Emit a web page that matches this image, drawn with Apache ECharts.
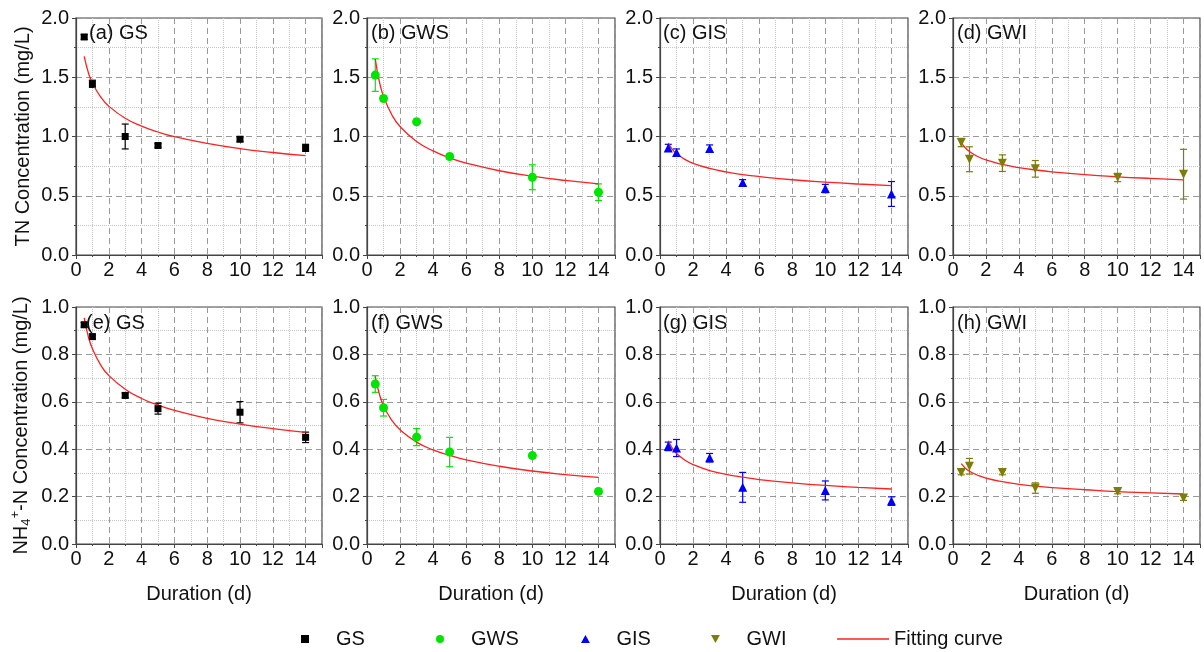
<!DOCTYPE html>
<html>
<head>
<meta charset="utf-8">
<script src="https://cdn.jsdelivr.net/npm/echarts@6/dist/echarts.min.js"></script>
<style>
  html, body { margin: 0; padding: 0; background: #fff; }
  #chart { width: 1204px; height: 652px; }
</style>
</head>
<body>
<div id="chart"></div>
<script>
// sampling days
var days = [0.5, 1, 3, 5, 10, 14];

// TN (mg/L), mean and error half-width
var tnGS = [1.84, 1.445, 1.0, 0.924, 0.977, 0.904];
var tnGSErr = [0.02, 0.03, 0.105, 0.015, 0.02, 0.03];
var tnGWS = [1.518, 1.321, 1.124, 0.831, 0.656, 0.53];
var tnGWSErr = [0.137, 0.02, 0.015, 0.02, 0.105, 0.07];
var tnGIS = [0.904, 0.865, 0.899, 0.611, 0.561, 0.515];
var tnGISErr = [0.03, 0.03, 0.03, 0.025, 0.035, 0.105];
var tnGWI = [0.949, 0.808, 0.775, 0.727, 0.654, 0.682];
var tnGWIErr = [0.035, 0.105, 0.07, 0.07, 0.035, 0.21];

// NH4+-N (mg/L)
var nhGS = [0.925, 0.875, 0.627, 0.571, 0.556, 0.45];
var nhGSErr = [0.01, 0.01, 0.01, 0.023, 0.045, 0.022];
var nhGWS = [0.675, 0.575, 0.451, 0.388, 0.373, 0.222];
var nhGWSErr = [0.035, 0.035, 0.036, 0.062, 0.01, 0.01];
var nhGIS = [0.412, 0.405, 0.364, 0.239, 0.226, 0.181];
var nhGISErr = [0.018, 0.036, 0.018, 0.063, 0.04, 0.018];
var nhGWI = [0.302, 0.328, 0.302, 0.236, 0.222, 0.194];
var nhGWIErr = [0.01, 0.033, 0.01, 0.022, 0.01, 0.01];

// fitting curves
var fitDays = [0.5, 0.75, 1, 1.5, 2, 3, 4, 5, 6, 8, 10, 12, 14];
var fitTnGS = [1.676, 1.540, 1.451, 1.334, 1.256, 1.154, 1.088, 1.038, 0.999, 0.942, 0.898, 0.865, 0.838];
var fitTnGWS = [1.654, 1.462, 1.339, 1.184, 1.084, 0.958, 0.878, 0.820, 0.776, 0.711, 0.665, 0.629, 0.600];
var fitTnGIS = [0.944, 0.891, 0.855, 0.807, 0.774, 0.731, 0.701, 0.679, 0.662, 0.635, 0.615, 0.599, 0.586];
var fitTnGWI = [0.949, 0.904, 0.873, 0.831, 0.802, 0.764, 0.738, 0.718, 0.702, 0.678, 0.660, 0.646, 0.634];
var fitNhGS = [0.954, 0.875, 0.824, 0.756, 0.711, 0.653, 0.614, 0.586, 0.564, 0.530, 0.506, 0.487, 0.471];
var fitNhGWS = [0.707, 0.632, 0.584, 0.522, 0.482, 0.430, 0.397, 0.374, 0.355, 0.328, 0.308, 0.293, 0.281];
var fitNhGIS = [0.436, 0.404, 0.382, 0.354, 0.335, 0.310, 0.294, 0.282, 0.272, 0.258, 0.247, 0.239, 0.232];
var fitNhGWI = [0.339, 0.320, 0.307, 0.290, 0.278, 0.263, 0.252, 0.244, 0.238, 0.229, 0.221, 0.216, 0.211];

var panelLabels = ['(a) GS', '(b) GWS', '(c) GIS', '(d) GWI', '(e) GS', '(f) GWS', '(g) GIS', '(h) GWI'];

var FONT = "'Liberation Sans', Arial, sans-serif";
var lefts = [76, 367, 660, 953];
var widths = [246, 248, 248, 247];
var tops = [18, 307];
var labelLefts = [89, 371, 663, 957, 86, 371, 663, 957];

var SQUARE = 'path://M0,0 L10,0 L10,10 L0,10 Z';
var UP = 'path://M5,0 L10,9 L0,9 Z';
var DOWN = 'path://M0,0 L10,0 L5,9 Z';
var LINE = 'path://M0,0 L60,0 L60,1.6 L0,1.6 Z';

var groups = [
  { name: 'GS', color: '#000000', symbol: 'rect', size: 7, icon: SQUARE, legendLeft: 296 },
  { name: 'GWS', color: '#00e600', symbol: 'circle', size: 9, icon: 'circle', legendLeft: 431 },
  { name: 'GIS', color: '#0000ff', symbol: 'triangle', size: 9, icon: UP, legendLeft: 576 },
  { name: 'GWI', color: '#7d7d0a', symbol: DOWN, size: 9, icon: DOWN, legendLeft: 706 }
];
var means = [tnGS, tnGWS, tnGIS, tnGWI, nhGS, nhGWS, nhGIS, nhGWI];
var errs = [tnGSErr, tnGWSErr, tnGISErr, tnGWIErr, nhGSErr, nhGWSErr, nhGISErr, nhGWIErr];
var fits = [fitTnGS, fitTnGWS, fitTnGIS, fitTnGWI, fitNhGS, fitNhGWS, fitNhGIS, fitNhGWI];

var grids = [], xAxes = [], yAxes = [], titles = [], series = [];

for (var i = 0; i < 8; i++) {
  var row = Math.floor(i / 4), col = i % 4;
  var g = groups[col];
  grids.push({
    left: lefts[col], top: tops[row], width: widths[col], height: 237,
    show: true, borderColor: '#444', borderWidth: 1.2, backgroundColor: '#fff'
  });
  xAxes.push({
    gridIndex: i, type: 'value', min: 0, max: 15, interval: 2,
    name: row === 1 ? 'Duration (d)' : '', nameLocation: 'middle', nameGap: 40,
    nameTextStyle: { fontSize: 20, color: '#111', fontFamily: FONT },
    axisLine: { show: true, onZero: false, lineStyle: { color: '#444', width: 1.2 } },
    axisTick: { show: true, length: 4, lineStyle: { color: '#444' } },
    minorTick: { show: true, splitNumber: 2, length: 2, lineStyle: { color: '#444' } },
    axisLabel: {
      fontSize: 20, color: '#111', fontFamily: FONT, margin: 5,
      formatter: function (v) { return v > 14 ? '' : String(v); }
    },
    splitLine: { show: true, lineStyle: { color: '#999', type: [6, 4], width: 1 } },
    minorSplitLine: { show: true, lineStyle: { color: '#c4c4c4', type: 'dotted', width: 1 } }
  });
  var yName = '';
  if (col === 0) {
    yName = row === 0 ? 'TN Concentration (mg/L)' : '{n|NH}{sub|4}{sup|+}{n|-N Concentration (mg/L)}';
  }
  yAxes.push({
    gridIndex: i, type: 'value', min: 0,
    max: row === 0 ? 2 : 1, interval: row === 0 ? 0.5 : 0.2,
    name: yName, nameLocation: 'middle', nameGap: 43,
    nameTextStyle: {
      fontSize: 20, color: '#111', fontFamily: FONT,
      rich: {
        n: { fontSize: 20, color: '#111', fontFamily: FONT, lineHeight: 24 },
        sub: { fontSize: 13, color: '#111', fontFamily: FONT, verticalAlign: 'bottom', lineHeight: 24 },
        sup: { fontSize: 13, color: '#111', fontFamily: FONT, verticalAlign: 'top', lineHeight: 24 }
      }
    },
    axisLine: { show: true, lineStyle: { color: '#444', width: 1.2 } },
    axisTick: { show: true, length: 4, lineStyle: { color: '#444' } },
    minorTick: { show: true, splitNumber: 2, length: 2, lineStyle: { color: '#444' } },
    axisLabel: {
      fontSize: 20, color: '#111', fontFamily: FONT, margin: 7,
      formatter: function (v) { return v.toFixed(1); }
    },
    splitLine: { show: true, lineStyle: { color: '#999', type: [6, 4], width: 1 } },
    minorSplitLine: { show: true, lineStyle: { color: '#c4c4c4', type: 'dotted', width: 1 } }
  });
  titles.push({
    text: panelLabels[i], left: labelLefts[i], top: row === 0 ? 23 : 313, padding: 0,
    textStyle: { fontSize: 20, fontWeight: 'normal', color: '#111', fontFamily: FONT }
  });

  // error bars
  var barData = days.map(function (d, k) {
    return [d, means[i][k] - errs[i][k], means[i][k] + errs[i][k]];
  });
  series.push({
    type: 'custom', xAxisIndex: i, yAxisIndex: i, silent: true, z: 3,
    data: barData,
    renderItem: (function (color) {
      return function (params, api) {
        var top = api.coord([api.value(0), api.value(2)]);
        var bot = api.coord([api.value(0), api.value(1)]);
        var w = 3.5;
        var st = { stroke: color, lineWidth: 1.2 };
        return {
          type: 'group',
          children: [
            { type: 'line', shape: { x1: top[0], y1: top[1], x2: bot[0], y2: bot[1] }, style: st },
            { type: 'line', shape: { x1: top[0] - w, y1: top[1], x2: top[0] + w, y2: top[1] }, style: st },
            { type: 'line', shape: { x1: bot[0] - w, y1: bot[1], x2: bot[0] + w, y2: bot[1] }, style: st }
          ]
        };
      };
    })(g.color)
  });

  // fitting curve
  series.push({
    name: 'Fitting curve', type: 'line', xAxisIndex: i, yAxisIndex: i,
    data: fitDays.map(function (d, k) { return [d, fits[i][k]]; }),
    smooth: true, symbol: 'none', z: 4,
    lineStyle: { color: '#ff2020', width: 1.3 }, itemStyle: { color: '#ff2020' }
  });

  // measured points
  series.push({
    name: g.name, type: 'scatter', xAxisIndex: i, yAxisIndex: i, z: 5,
    symbol: g.symbol, symbolSize: g.size,
    itemStyle: { color: g.color, opacity: 1 },
    data: days.map(function (d, k) { return [d, means[i][k]]; })
  });
}

// one legend per entry so each sits where the reference has it
var legendBase = {
  top: 624, itemWidth: 52, itemHeight: 8, selectedMode: false,
  textStyle: { fontSize: 20, color: '#111', fontFamily: FONT }
};
var legends = groups.map(function (g) {
  return Object.assign({}, legendBase, {
    left: g.legendLeft,
    data: [{ name: g.name, icon: g.icon, itemStyle: { color: g.color } }]
  });
});
legends.push(Object.assign({}, legendBase, {
  left: 832,
  data: [{ name: 'Fitting curve', icon: LINE, itemStyle: { color: '#ff2020' } }]
}));

var chart = echarts.init(document.getElementById('chart'), null, { renderer: 'canvas' });
chart.setOption({
  backgroundColor: '#fff',
  animation: false,
  textStyle: { fontFamily: FONT },
  title: titles,
  grid: grids,
  xAxis: xAxes,
  yAxis: yAxes,
  legend: legends,
  series: series
});
</script>
</body>
</html>
